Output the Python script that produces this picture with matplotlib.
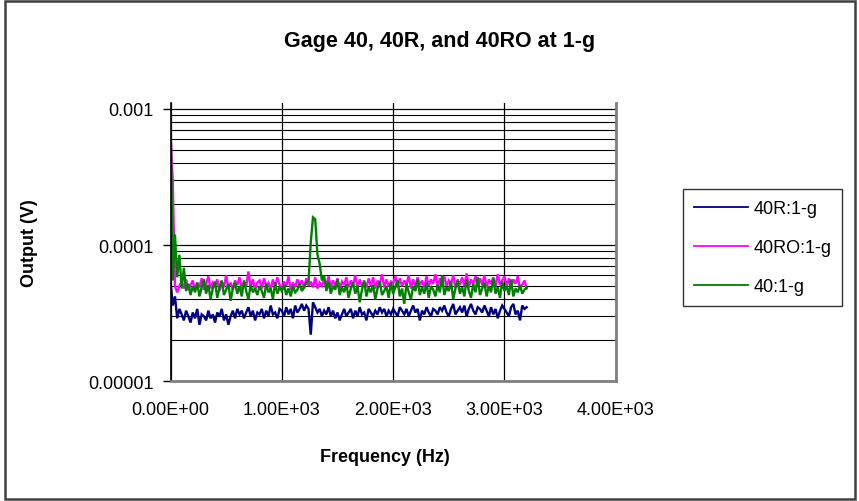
import numpy as np
import matplotlib
matplotlib.use("Agg")
import matplotlib.pyplot as plt
from matplotlib.ticker import FixedLocator, NullFormatter
from matplotlib.patches import Rectangle

plt.rcParams["font.family"] = ["Liberation Sans", "DejaVu Sans"]

# Spectrum sampled every 20 Hz from 0 to 3200 Hz
freq_step_hz = 20
freq_hz = np.arange(0, 3200 + freq_step_hz, freq_step_hz)

# Output amplitudes in units of 1e-5 V
out_40R = [
    5.5, 3.6, 4.2, 2.9, 3.4, 3.1, 2.8, 3.3, 3.0, 2.7,
    3.2, 2.9, 3.4, 2.6, 3.1, 3.0, 2.8, 3.3, 2.9, 3.1,
    2.7, 3.2, 3.0, 3.4, 2.8, 3.1, 2.6, 3.0, 3.3, 2.9,
    3.4, 3.1, 3.3, 2.9, 3.2, 3.5, 3.0, 3.3, 2.8, 3.2,
    3.1, 3.4, 2.9, 3.3, 3.0, 3.6, 3.1, 3.2, 2.9, 3.4,
    3.3, 3.0, 3.5, 3.1, 3.4, 2.9, 3.6, 3.2, 3.4, 3.7,
    3.3, 3.6, 3.4, 2.2, 3.8, 3.5, 3.2, 3.4, 3.0, 3.3,
    3.1, 3.5, 3.0, 3.3, 2.9, 3.2, 2.8, 3.1, 3.4, 3.0,
    3.2, 3.4, 2.9, 3.3, 3.0, 3.5, 3.1, 3.2, 2.8, 3.4,
    3.2, 3.0, 3.3, 3.1, 3.5, 3.2, 3.4, 3.0, 3.3, 3.1,
    3.4, 3.2, 3.0, 3.5, 3.3, 3.1, 3.4, 3.0, 3.3, 3.6,
    3.2, 3.4, 2.8, 3.3, 3.1, 3.5, 3.2, 3.0, 3.4, 3.3,
    3.1, 3.5, 3.3, 3.6, 3.2, 3.0, 3.4, 3.7, 3.1, 3.3,
    3.5, 3.2, 3.6, 3.0, 3.4, 3.7, 3.3, 3.1, 3.5, 3.4,
    3.2, 3.6, 3.3, 3.0, 3.5, 3.1, 3.4, 2.9, 3.3, 3.6,
    3.4, 3.2, 3.0, 3.5, 3.7, 3.1, 3.3, 2.8, 3.6, 3.4,
    3.5,
]

out_40RO = [
    65.0, 30.0, 5.0, 4.5, 5.0, 5.4, 4.8, 5.6, 4.7, 5.1,
    5.5, 4.6, 5.3, 4.9, 5.7, 4.7, 5.2, 5.9, 4.8, 5.3,
    5.0, 5.6, 4.6, 5.4, 4.9, 6.0, 4.8, 5.3, 4.7, 5.5,
    5.1, 5.8, 4.8, 5.4, 5.0, 6.4, 4.9, 5.6, 4.7, 5.3,
    5.5, 4.8, 5.7, 5.0, 5.3, 4.7, 5.6, 4.9, 5.8, 5.1,
    4.8, 5.4, 5.0, 5.9, 4.7, 5.3, 4.9, 5.6, 5.1, 5.5,
    4.8, 5.7, 5.0, 5.4, 4.9, 5.8, 4.8, 5.3, 5.0, 5.6,
    5.1, 5.9, 4.9, 5.5, 5.0, 5.7, 4.8, 5.4, 5.1, 5.8,
    4.9, 5.5, 5.1, 6.0, 4.8, 5.6, 5.0, 5.4, 4.9, 5.7,
    5.0, 5.8, 4.8, 5.5, 5.1, 6.1, 4.9, 5.6, 5.0, 5.4,
    5.2, 5.9, 4.9, 5.7, 5.0, 5.5, 5.1, 6.0, 4.8, 5.6,
    5.0, 5.8, 5.1, 5.5, 4.9, 5.9, 5.0, 5.6, 5.2, 6.1,
    4.9, 5.7, 5.1, 5.9, 5.0, 5.5, 5.2, 6.0, 4.8, 5.6,
    5.1, 5.8, 5.0, 6.2, 4.9, 5.6, 5.2, 5.9, 5.0, 5.7,
    5.1, 6.0, 4.9, 5.6, 5.2, 5.8, 5.0, 6.1, 5.1, 5.5,
    5.9, 5.0, 5.7, 4.9, 5.6, 5.2, 5.9, 4.8, 5.1, 5.5,
    4.8,
]

out_40 = [
    100.0, 5.5, 12.0, 5.8, 8.5, 4.8, 6.8, 4.6, 5.2, 4.3,
    5.0, 4.5, 5.3, 4.2, 4.9, 5.6, 4.4, 5.1, 4.0, 4.8,
    5.4, 4.1, 4.9, 5.5, 4.3, 4.7, 5.2, 3.9, 4.8, 5.3,
    4.4, 5.0, 4.2, 5.5, 4.6, 4.0, 5.1, 4.5, 4.8, 4.3,
    5.0, 4.6, 4.1, 5.2, 4.5, 4.8, 4.0, 5.3, 4.4, 4.9,
    4.6, 5.1, 4.3, 4.8, 4.2, 5.0, 4.5, 4.7, 5.2, 4.6,
    4.9, 5.3, 5.4, 10.5, 16.0, 15.5, 8.5, 7.3, 5.5, 6.0,
    4.6, 5.4, 4.4, 5.0, 4.7, 5.6, 4.3, 4.9, 4.5, 5.2,
    4.1, 4.8, 5.3, 4.4, 5.0, 3.8, 4.7, 5.5, 4.2, 4.9,
    4.5, 5.1, 4.0, 4.8, 5.4, 4.3, 4.6, 5.0, 4.1, 5.3,
    4.4, 4.9, 5.5, 4.2, 4.8, 3.7, 5.2, 4.5, 4.0, 5.0,
    4.6, 5.6, 4.3, 4.9, 4.4, 5.3, 4.1, 5.0, 4.7, 4.2,
    5.1, 4.5, 6.0, 4.3, 4.9, 4.6, 5.4, 4.0, 4.8, 5.5,
    4.4, 4.9, 4.2, 5.6, 4.6, 4.1, 5.2, 4.5, 5.8, 4.3,
    4.8, 5.3, 4.2, 5.0, 4.5, 5.7, 4.4, 4.9, 4.1, 5.4,
    4.6, 5.0, 4.3, 5.6, 4.2, 4.8, 4.5, 5.1, 4.4, 4.7,
    4.9,
]
amp_unit_v = 1e-5

series_labels = ["40R:1-g", "40RO:1-g", "40:1-g"]
series_colors = ["#000080", "#FF00FF", "#008000"]

x_ticks = [0, 1000, 2000, 3000, 4000]
x_tick_labels = ["0.00E+00", "1.00E+03", "2.00E+03", "3.00E+03", "4.00E+03"]
y_ticks = [1e-5, 1e-4, 1e-3]
y_tick_labels = ["0.00001", "0.0001", "0.001"]

fig = plt.figure(figsize=(8.59, 5.02), dpi=100)
fig.patch.set_facecolor("white")

ax = fig.add_axes([0.1985, 0.2385, 0.5183, 0.5544])
ax.set_yscale("log")
ax.set_xlim(0, 4000)
ax.set_ylim(1e-5, 1.107e-3)

for vals, lab, col in zip([out_40R, out_40RO, out_40], series_labels, series_colors):
    ax.plot(freq_hz, np.asarray(vals) * amp_unit_v, color=col, lw=1.7, label=lab,
            solid_joinstyle="miter")

# Gridlines
ax.xaxis.set_major_locator(FixedLocator(x_ticks))
ax.set_xticklabels(x_tick_labels)
ax.yaxis.set_major_locator(FixedLocator(y_ticks))
ax.set_yticklabels(y_tick_labels)
minor_y = [m * 10.0 ** e for e in (-5, -4) for m in range(2, 10)]
ax.yaxis.set_minor_locator(FixedLocator(minor_y))
ax.yaxis.set_minor_formatter(NullFormatter())
ax.grid(True, which="major", axis="both", color="black", lw=0.9)
ax.grid(True, which="minor", axis="y", color="black", lw=0.8)
ax.set_axisbelow(True)

ax.tick_params(axis="x", length=0, pad=14, labelsize=13)
ax.tick_params(axis="y", which="major", length=6, width=1, direction="out",
               pad=6, labelsize=13)
ax.tick_params(axis="y", which="minor", length=0)

ax.spines["top"].set_visible(False)
ax.spines["left"].set_color("black")
ax.spines["left"].set_linewidth(1.2)
for s in ("right", "bottom"):
    ax.spines[s].set_color("#808080")
    ax.spines[s].set_linewidth(2)

ax.set_xlabel("Frequency (Hz)", fontsize=13, fontweight="bold")
ax.xaxis.set_label_coords(0.482, -0.27)
ax.xaxis.label.set_va("center")
ax.set_ylabel("Output (V)", fontsize=13, fontweight="bold")
ax.yaxis.set_label_coords(-0.316, 0.5)
ax.yaxis.label.set_va("center")
fig.text(0.512, 0.918, "Gage 40, 40R, and 40RO at 1-g", ha="center", va="center",
         fontsize=15.5, fontweight="bold")

leg = fig.legend(loc="upper left", bbox_to_anchor=(0.795, 0.6215),
                 bbox_transform=fig.transFigure, fontsize=13, frameon=True,
                 fancybox=False, edgecolor="black", handlelength=3.0,
                 handletextpad=0.3, labelspacing=1.22, borderpad=0.6,
                 borderaxespad=0)
leg.get_frame().set_linewidth(1.0)
for line in leg.get_lines():
    line.set_linewidth(1.3)

# Chart border
fig.patches.append(Rectangle((0.006, 0.003), 0.989, 0.994, transform=fig.transFigure,
                             fill=False, edgecolor="#404040", lw=1.8))

fig.savefig("out.png", dpi=100)
